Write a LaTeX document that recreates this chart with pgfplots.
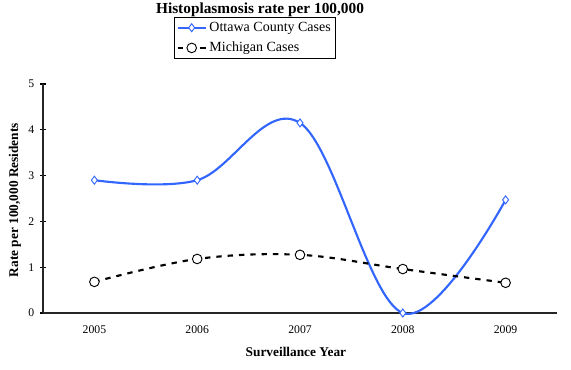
\documentclass[border=0pt]{standalone}
\usepackage{pgfplots}
\pgfplotsset{compat=1.18}
\usepackage{fontspec}
\setmainfont{Liberation Serif}
\definecolor{ottblue}{RGB}{51,102,255}
\begin{document}
\begin{tikzpicture}
\useasboundingbox (0,0) rectangle (428.25pt,276.75pt);
\node[font=\bfseries\fontsize{11.5}{13}\selectfont, anchor=base] at (195pt,267pt) {Histoplasmosis rate per 100,000};
\begin{axis}[
  at={(32.25pt,42pt)}, anchor=south west,
  scale only axis, width=385.5pt, height=171.75pt,
  xmin=-0.5, xmax=4.5, ymin=0, ymax=5,
  axis x line=bottom, axis y line=left,
  axis line style={-, line width=1.1pt, black!85},
  xtick={0,1,2,3,4}, xticklabels={2005,2006,2007,2008,2009},
  minor xtick={-0.5,0.5,1.5,2.5,3.5,4.5},
  ytick={0,1,2,3,4,5},
  tick align=center,
  major tick length=4pt,
  minor tick length=5.5pt,
  xtick style={draw=none},
  minor tick style={line width=0.8pt, black},
  ytick style={line width=0.8pt, black},
  tick label style={font=\fontsize{8.8}{10}\selectfont},
  /pgf/number format/assume math mode=true,
  xticklabel style={yshift=-4pt},
  yticklabel style={xshift=-1pt},
  xlabel={Surveillance Year},
  ylabel={Rate per 100,000 Residents},
  label style={font=\bfseries\fontsize{10}{12}\selectfont},
  xlabel style={at={(axis description cs:0.492,-0.188)}, anchor=base},
  ylabel style={at={(axis description cs:-0.0545,0.493)}, anchor=center},
  legend style={at={(0.255,1.293)}, anchor=north west, draw=black, line width=0.8pt,
    font=\fontsize{10.5}{12}\selectfont, inner sep=1.5pt, row sep=2.5pt},
  legend cell align=left,
  legend image code/.code={\draw[#1,mark=none] (0cm,0cm) -- (0.74cm,0cm); \path[#1] plot coordinates {(0.37cm,0cm)};},
  clip=false,
]
\addplot[color=ottblue, line width=1.6pt, smooth, tension=0.6,
  mark=diamond*, mark size=3pt, mark options={fill=white, draw=ottblue, line width=0.7pt, solid}]
  coordinates {(0,2.90) (1,2.90) (2,4.15) (3,0.0) (4,2.47)};
\addlegendentry{Ottawa County Cases}
\addplot[color=black, line width=1.6pt, smooth, tension=0.6, dash pattern=on 4pt off 4.5pt,
  mark=*, mark size=3.6pt, mark options={fill=white, draw=black, line width=0.7pt, solid}]
  coordinates {(0,0.68) (1,1.18) (2,1.27) (3,0.96) (4,0.66)};
\addlegendentry{Michigan Cases}
\end{axis}
\end{tikzpicture}
\end{document}
